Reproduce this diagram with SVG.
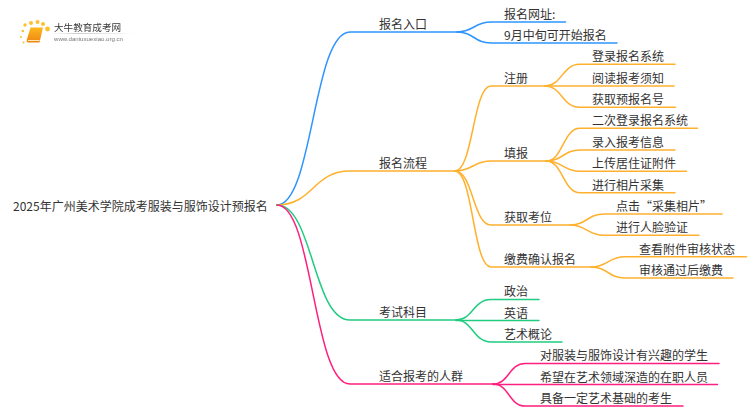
<svg xmlns="http://www.w3.org/2000/svg" width="750" height="410" viewBox="0 0 750 410">
<style>
text{font-family:"Noto Sans CJK SC","Liberation Sans",sans-serif;font-size:12px;fill:#333}
.c{fill:none;stroke-width:1.5;stroke-linecap:round}
.b{stroke:#2e95ff}.o{stroke:#ffb12e}.g{stroke:#20cc80}.p{stroke:#ff1f7f}
</style>
<defs>
<linearGradient id="fade"><stop offset="0" stop-color="#ccc" stop-opacity="0"/><stop offset=".3" stop-color="#ccc"/><stop offset="1" stop-color="#ccc" stop-opacity="0"/></linearGradient>
<linearGradient id="book" x1="0" y1="0" x2="0" y2="1"><stop offset="0" stop-color="#fdb81f"/><stop offset="1" stop-color="#ee8510"/></linearGradient>
<filter id="soft" x="-10%" y="-10%" width="120%" height="120%"><feGaussianBlur stdDeviation="0.35"/></filter>
</defs>
<rect width="750" height="410" fill="#fff"/>
<g id="connectors">
<path class="c b" d="M277 205C313 205 313 32 350 32H457"/>
<path class="c b" d="M457 32C474 32 474 22 491 22H565.500"/>
<path class="c b" d="M457 32C474 32 474 43 491 43H617"/>
<path class="c o" d="M277 205C313 205 313 171 350 171H455"/>
<path class="c o" d="M455 171C473 171 473 86 491 86H545"/>
<path class="c o" d="M455 171C473 171 473 161 491 161H546"/>
<path class="c o" d="M455 171C473 171 473 225 491 225H570"/>
<path class="c o" d="M455 171C473 171 473 267 491 267H591"/>
<path class="c o" d="M545 86C562 86 562 64.300 580 64.300H675"/>
<path class="c o" d="M545 86H674"/>
<path class="c o" d="M545 86C562 86 562 107.300 580 107.300H675.500"/>
<path class="c o" d="M546 161C563 161 563 128.300 580 128.300H697.500"/>
<path class="c o" d="M546 161C563 161 563 150 580 150H675"/>
<path class="c o" d="M546 161C563 161 563 171.300 580 171.300H686.500"/>
<path class="c o" d="M546 161C563 161 563 192.700 580 192.700H675"/>
<path class="c o" d="M570 225C587 225 587 214 604 214H722"/>
<path class="c o" d="M570 225C587 225 587 235.300 604 235.300H699"/>
<path class="c o" d="M591 267C608 267 608 256.700 625 256.700H746.500"/>
<path class="c o" d="M591 267C608 267 608 278 625 278H733"/>
<path class="c g" d="M277 205C313 205 313 320 350 320H456"/>
<path class="c g" d="M456 320C473 320 473 299.500 491 299.500H539"/>
<path class="c g" d="M456 320.500H539"/>
<path class="c g" d="M456 320C473 320 473 342 491 342H562"/>
<path class="c p" d="M277 205C313 205 313 384 350 384H493"/>
<path class="c p" d="M493 384C509 384 509 363.500 525 363.500H719"/>
<path class="c p" d="M493 384.500H717.500"/>
<path class="c p" d="M493 384C509 384 509 406 525 406H683"/>
</g>
<g id="logo" filter="url(#soft)">
<g fill="#fdc02f"><circle cx="25" cy="25" r="1.700"/><circle cx="31" cy="23" r="2"/><circle cx="37.500" cy="22" r="2"/><circle cx="43" cy="24" r="2"/><circle cx="47.500" cy="29" r="2.400"/><circle cx="22.800" cy="31" r="1.300"/><circle cx="21" cy="37" r="1"/><circle cx="23.500" cy="42.500" r="1"/></g>
<path d="M30.500 27.500H43L39.500 42.500H28C26.500 42.500 26.500 40 27 39Z" fill="url(#book)"/>
<path d="M28 40.500H39.500" stroke="#fde9c0" stroke-width="1"/>
<rect x="53" y="33" width="81" height="1" fill="url(#fade)"/>
<text x="54" y="31" style="font-size:9.600px;fill:#3a3a3a">大牛教育成考网</text>
<text x="54" y="41" textLength="69" lengthAdjust="spacingAndGlyphs" style="font-family:'Liberation Sans',sans-serif;font-size:6px;fill:#777">www.daniuxuexiao.org.cn</text>
</g>
<g id="root"><text x="13" y="211">2025年广州美术学院成考服装与服饰设计预报名</text></g>
<g id="n1"><text x="379" y="29">报名入口</text></g>
<g id="n1-1"><text x="504" y="19">报名网址:</text></g>
<g id="n1-2"><text x="504" y="40">9月中旬可开始报名</text></g>
<g id="n2"><text x="379" y="168">报名流程</text></g>
<g id="n2-1"><text x="504" y="83">注册</text></g>
<g id="n2-1-1"><text x="592" y="61">登录报名系统</text></g>
<g id="n2-1-2"><text x="592" y="83">阅读报考须知</text></g>
<g id="n2-1-3"><text x="592" y="104">获取预报名号</text></g>
<g id="n2-2"><text x="504" y="158">填报</text></g>
<g id="n2-2-1"><text x="592" y="125">二次登录报名系统</text></g>
<g id="n2-2-2"><text x="592" y="147">录入报考信息</text></g>
<g id="n2-2-3"><text x="592" y="168">上传居住证附件</text></g>
<g id="n2-2-4"><text x="592" y="190">进行相片采集</text></g>
<g id="n2-3"><text x="504" y="222">获取考位</text></g>
<g id="n2-3-1"><text x="616" y="211">点击“采集相片”</text></g>
<g id="n2-3-2"><text x="616" y="232">进行人脸验证</text></g>
<g id="n2-4"><text x="504" y="264">缴费确认报名</text></g>
<g id="n2-4-1"><text x="639" y="254">查看附件审核状态</text></g>
<g id="n2-4-2"><text x="639" y="275">审核通过后缴费</text></g>
<g id="n3"><text x="379" y="317">考试科目</text></g>
<g id="n3-1"><text x="504" y="296">政治</text></g>
<g id="n3-2"><text x="504" y="318">英语</text></g>
<g id="n3-3"><text x="504" y="339">艺术概论</text></g>
<g id="n4"><text x="379" y="381">适合报考的人群</text></g>
<g id="n4-1"><text x="540" y="360">对服装与服饰设计有兴趣的学生</text></g>
<g id="n4-2"><text x="540" y="382">希望在艺术领域深造的在职人员</text></g>
<g id="n4-3"><text x="540" y="403">具备一定艺术基础的考生</text></g>
</svg>
